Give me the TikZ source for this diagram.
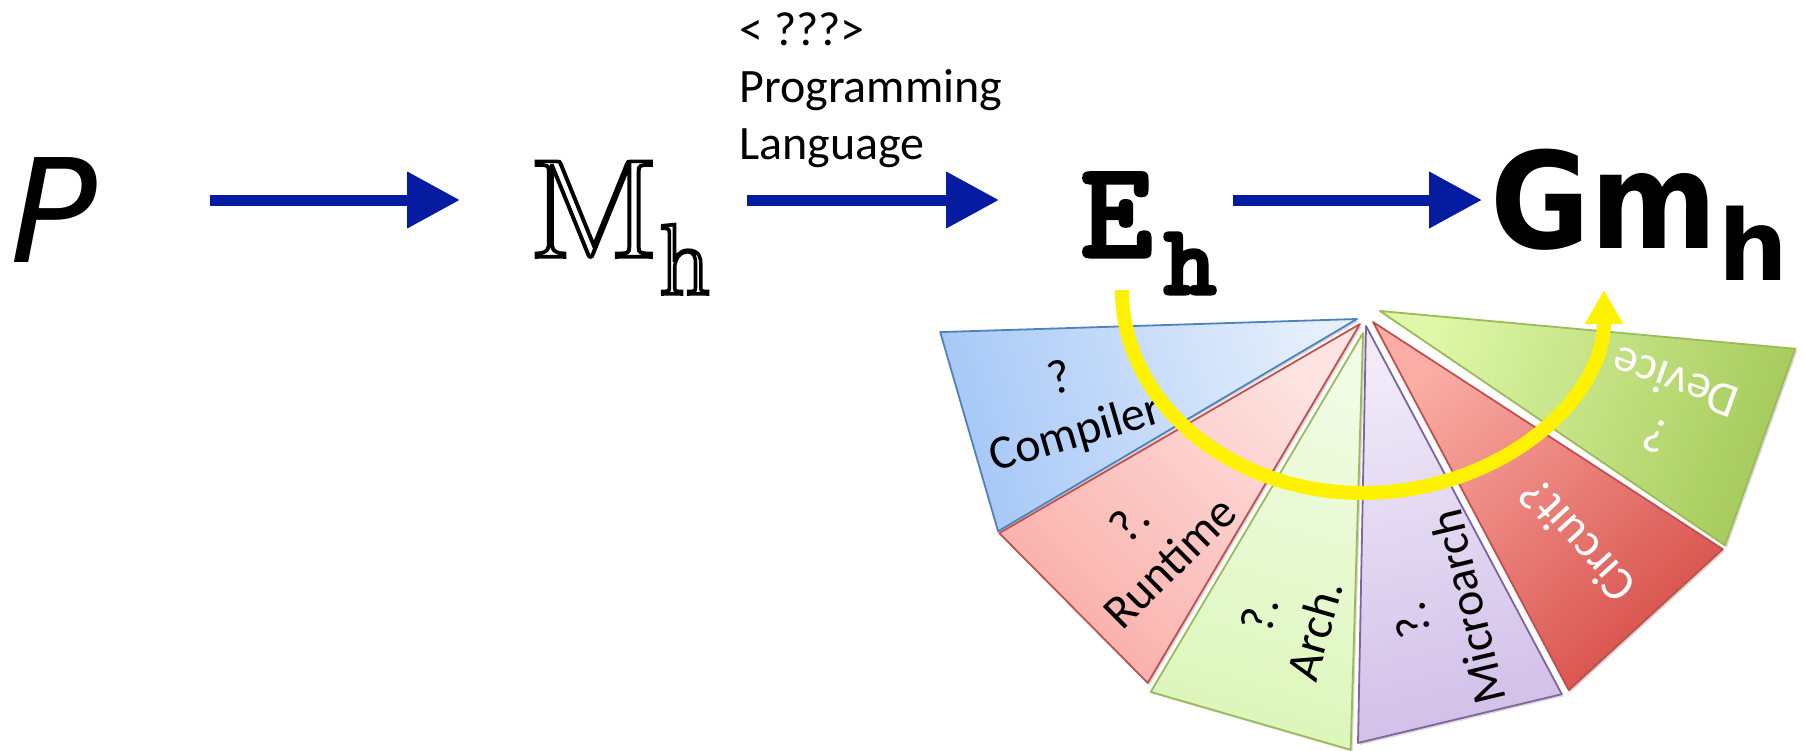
\documentclass[tikz,border=0pt]{standalone}
\usepackage{fontspec}
\usepackage{tikz}
\usetikzlibrary{arrows.meta, calc, shadows}

\newfontfamily\calibri{Carlito}
\newfontfamily\dejavu{DejaVu Sans}

\definecolor{flowblue}{RGB}{6,28,160}
\definecolor{compilerdark}{HTML}{A6C8F7}
\definecolor{compilerlight}{HTML}{E6EFFC}
\definecolor{compilerline}{HTML}{4F81BD}
\definecolor{runtimedark}{HTML}{FAAEA9}
\definecolor{runtimelight}{HTML}{FDE4E2}
\definecolor{runtimeline}{HTML}{C0504D}
\definecolor{archdark}{HTML}{DCF6BA}
\definecolor{archlight}{HTML}{F2FCE6}
\definecolor{archline}{HTML}{9BBB59}
\definecolor{microdark}{HTML}{D2C0E8}
\definecolor{microlight}{HTML}{F0EBF9}
\definecolor{microline}{HTML}{8064A2}
\definecolor{circuitdark}{HTML}{D8504A}
\definecolor{circuitlight}{HTML}{F9ADA5}
\definecolor{devicedark}{HTML}{A5CA5A}
\definecolor{devicelight}{HTML}{E0F8AA}

% white letter, stroked in black (outline look)
\newcommand\hollow[1]{\textcolor{white}{\special{pdf:literal direct q 0 G 2 Tr 1.8 w}#1\special{pdf:literal direct Q}}}
% black letter with an extra black stroke (heavier weight)
\newcommand\heavy[1]{\special{pdf:literal direct q 0 G 2 Tr 1.6 w}#1\special{pdf:literal direct Q}}

\begin{document}
\begin{tikzpicture}[
    x=0.5pt, y=0.5pt,
    bluearrow/.style={draw=flowblue, line width=5.5pt, -{Triangle[length=26.5pt, width=27pt]}},
    yellowarrow/.style={draw=yellow, line width=7pt, -{Triangle[length=17pt, width=18pt]}},
    sym/.style={inner sep=0pt, anchor=base west},
    slice/.style={line width=0.9pt, line join=round, drop shadow={shadow xshift=1pt, shadow yshift=-1pt, opacity=0.3}},
    txt/.style={inner sep=0pt, align=center, font=\calibri\fontsize{24}{28.5}\selectfont}]

    \useasboundingbox (0,0) rectangle (1804,-750);

    %%% top row
    \node[sym, font=\dejavu\itshape\fontsize{72}{80}\selectfont] (prog) at (10,-262) {P};
    \node[sym, font=\fontsize{70}{80}\selectfont] (mh) at (528,-257) {\scalebox{1.1}[1]{\hollow{M}}\raisebox{-18.5pt}{\fontsize{50}{56}\selectfont\hollow{h}}};
    \node[sym, font=\ttfamily\bfseries\fontsize{69}{80}\selectfont] (eh) at (1080,-257) {\heavy{E}\kern5.5pt\raisebox{-18.5pt}{\fontsize{50}{55}\selectfont\heavy{h}}};
    \node[sym, font=\dejavu\bfseries\fontsize{67}{80}\selectfont] (gm) at (1490,-248) {\scalebox{0.91}[1]{Gm}\kern0.5pt\raisebox{-16pt}{\fontsize{49}{54}\selectfont h}};

    \node[inner sep=0pt, anchor=north west, align=left, font=\calibri\fontsize{24}{28.5}\selectfont] (lang) at (739,-12) {< ???>\\Programming\\Language};

    \coordinate (row) at (0,-200);
    \draw[bluearrow, shorten <=56pt, shorten >=34pt] (prog.east |- row) -- (mh.west |- row);
    \draw[bluearrow, shorten <=18pt, shorten >=40.5pt] (mh.east |- row) -- (eh.west |- row);
    \draw[bluearrow, shorten <=8pt, shorten >=4pt] (eh.east |- row) -- (gm.west |- row);

    %%% fan of layers
    \coordinate (compilertip) at (1357,-319);
    \coordinate (runtimetip) at (1360,-324);
    \coordinate (archtip) at (1363,-333);
    \coordinate (microtip) at (1366,-326);
    \coordinate (circuittip) at (1373,-322);
    \coordinate (devicetip) at (1380,-311);

    \path[slice, draw=compilerline, top color=compilerlight, bottom color=compilerdark, shading angle=286.2]
        (compilertip) -- +(181.8:417) -- +(210.6:417) -- cycle;
    \path[slice, draw=runtimeline, top color=runtimelight, bottom color=runtimedark, shading angle=314.8]
        (runtimetip) -- +(210.1:417) -- +(239.4:417) -- cycle;
    \path[slice, draw=archline, top color=archlight, bottom color=archdark, shading angle=343.9]
        (archtip) -- +(239.4:417) -- +(268.3:417) -- cycle;
    \path[slice, draw=microline, top color=microlight, bottom color=microdark, shading angle=13.5]
        (microtip) -- +(268.9:417) -- +(298:417) -- cycle;
    \path[slice, draw=runtimeline, top color=circuitlight, bottom color=circuitdark, shading angle=42.5]
        (circuittip) -- +(298:417) -- +(327:417) -- cycle;
    \path[slice, draw=archline, top color=devicelight, bottom color=devicedark, shading angle=70.3]
        (devicetip) -- +(325.8:417) -- +(354.8:417) -- cycle;

    \node[txt, rotate=16.2] (compiler) at ($(compilertip)+(197:302)$) {?\\Compiler};
    \node[txt, rotate=44.8] (runtime) at ($(runtimetip)+(226:303)$) {?.\\Runtime};
    \node[txt, rotate=73.9] (arch) at ($(archtip)+(255.3:299)$) {?.\\Arch.};
    \node[txt, rotate=103.5] (micro) at ($(microtip)+(284.4:297)$) {?.\\Microarch};
    \node[txt, text=white, rotate=132.5] (circuit) at ($(circuittip)+(313:299)$) {Circuit?};
    \node[txt, text=white, rotate=160.3] (device) at ($(devicetip)+(341:302)$) {?\\Device};

    %%% sweep from E_h round to Gm_h
    \coordinate (loopstart) at (1122,-290);
    \draw[yellowarrow] (loopstart) arc[start angle=180, end angle=360, x radius=241, y radius=203];

\end{tikzpicture}
\end{document}
